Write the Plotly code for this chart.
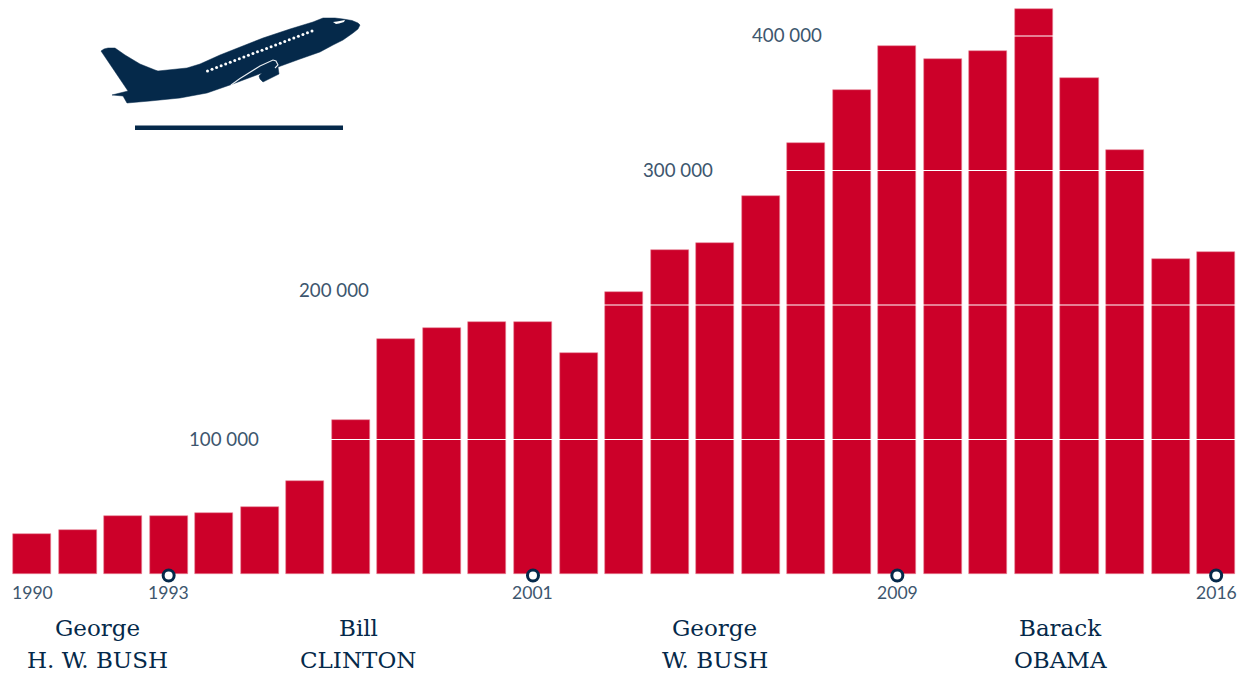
import plotly.graph_objects as go

W, H = 1243, 674
years = list(range(1990, 2017))
values = [29700, 32700, 43000, 43000, 45000, 50000, 69000, 114500, 174700, 183000,
          187700, 187700, 164000, 210000, 241000, 246000, 281200, 320500, 360000, 392500,
          383000, 388500, 420000, 368500, 315000, 234000, 239700]
grid_values = [100000, 200000, 300000, 400000]
y_labels = ["100 000", "200 000", "300 000", "400 000"]
y_label_years = [1994.21, 1996.63, 2004.19, 2006.58]
y_label_vals = [100700, 211200, 300700, 400500]
marked_years = [1993, 2001, 2009, 2016]
marked_vals = [-1100, -1100, -1100, -1100]
year_labels = ["1990", "1993", "2001", "2009", "2016"]
year_label_x = [1990, 1993, 2001, 2009, 2016]
year_label_val = -13500
president_first = ["George", "Bill", "George", "Barack"]
president_last = ["H. W. BUSH", "CLINTON", "W. BUSH", "OBAMA"]
president_x = [1991.44, 1997.16, 2004.99, 2012.58]
first_line_val = -40150
last_line_val = -63940

# decorative plane, in picture pixels
plane_body = [(101, 51), (104, 49), (108, 48), (115, 48), (125, 55), (140, 64), (155, 70), (158, 71),
              (187, 68), (200, 64), (220, 55), (263, 38), (290, 29), (313, 22), (323, 18), (335, 18),
              (343, 19), (352, 20.5), (358, 23), (360, 25), (358, 29), (353, 33), (343, 40), (333, 45),
              (320, 52), (300, 59), (278, 67), (279, 74), (263, 82), (260, 79), (259, 76), (262, 73),
              (230, 85), (207, 93), (180, 98), (150, 101), (127, 103), (123, 96), (112, 95), (128, 91)]
plane_wing = [(231, 85), (240, 78.5), (260, 66), (273, 60), (276, 61), (278, 65), (275, 68)]
plane_nose_window = [(333, 22), (337, 21.5), (345, 20), (344, 22), (339, 23.5), (336, 24)]
runway = [(135, 125.5), (343, 125.5), (343, 130), (135, 130)]
window_start, window_end = (207.5, 71), (312, 31)
N_WINDOWS = 24

NAVY = "#05294a"
TEXT = "#3d566e"
RED = "#cc0029"


def path(pts, close=True):
    d = "M " + " L ".join(f"{x / W:.5f},{1 - y / H:.5f}" for x, y in pts)
    return d + " Z" if close else d


fig = go.Figure()
fig.add_trace(go.Bar(x=years, y=values, marker=dict(color=RED, line=dict(color="#e7889b", width=0.6)),
                     width=0.835, hoverinfo="x+y", showlegend=False))
fig.add_trace(go.Scatter(x=marked_years, y=marked_vals, mode="markers", showlegend=False,
                         marker=dict(size=11, color="white", line=dict(color=NAVY, width=3)),
                         cliponaxis=False))
wx = [window_start[0] + (window_end[0] - window_start[0]) * i / (N_WINDOWS - 1) for i in range(N_WINDOWS)]
wy = [window_start[1] + (window_end[1] - window_start[1]) * i / (N_WINDOWS - 1) for i in range(N_WINDOWS)]
fig.add_trace(go.Scatter(x=[a / W for a in wx], y=[1 - b / H for b in wy], xaxis="x2", yaxis="y2",
                         mode="markers", showlegend=False, hoverinfo="skip",
                         marker=dict(size=3, color="white")))

# the white rules only show across the bars that reach them
shapes = []
for v in grid_values:
    first = min(y for y, b in zip(years, values) if b >= v)
    shapes.append(dict(type="line", xref="x", x0=first - 0.5, x1=2016.59, yref="y", y0=v, y1=v,
                       line=dict(color="white", width=1), layer="above"))
shapes.append(dict(type="path", xref="paper", yref="paper", path=path(plane_body), fillcolor=NAVY,
                   line=dict(width=0.5, color=NAVY), layer="below"))
shapes.append(dict(type="path", xref="paper", yref="paper", path=path(plane_wing, close=False),
                   line=dict(width=1.1, color="#e8edf1"), layer="below"))
shapes.append(dict(type="path", xref="paper", yref="paper", path=path(plane_nose_window), fillcolor="white",
                   line=dict(width=0), layer="below"))
shapes.append(dict(type="path", xref="paper", yref="paper", path=path(runway), fillcolor=NAVY,
                   line=dict(width=0), layer="below"))

ann = []
for t, x, v in zip(y_labels, y_label_years, y_label_vals):
    ann.append(dict(x=x, y=v, text=t, showarrow=False, xanchor="center", yanchor="middle",
                    font=dict(family="Lato", size=18.7, color=TEXT)))
for t, x in zip(year_labels, year_label_x):
    ann.append(dict(x=x, y=year_label_val, text=t, showarrow=False, xanchor="center", yanchor="middle",
                    font=dict(family="Lato", size=17.6, color=TEXT)))
for t, x in zip(president_first, president_x):
    ann.append(dict(x=x, y=first_line_val, text=t, showarrow=False, xanchor="center", yanchor="middle",
                    font=dict(family="DejaVu Serif", size=23, color=NAVY)))
for t, x in zip(president_last, president_x):
    ann.append(dict(x=x, y=last_line_val, text=t, showarrow=False, xanchor="center", yanchor="middle",
                    font=dict(family="DejaVu Serif", size=23, color=NAVY)))

fig.update_layout(
    width=W, height=H, margin=dict(l=0, r=0, t=0, b=0), autosize=False,
    paper_bgcolor="white", plot_bgcolor="white", bargap=0,
    xaxis=dict(range=[1989.297, 2016.59], visible=False, fixedrange=True),
    yaxis=dict(range=[-74349, 426766], visible=False, fixedrange=True),
    xaxis2=dict(range=[0, 1], visible=False, overlaying="x", fixedrange=True),
    yaxis2=dict(range=[0, 1], visible=False, overlaying="y", fixedrange=True),
    shapes=shapes, annotations=ann,
)
fig.write_html("out.html", config={"displayModeBar": False},
               post_script="document.body.style.margin='0';")
